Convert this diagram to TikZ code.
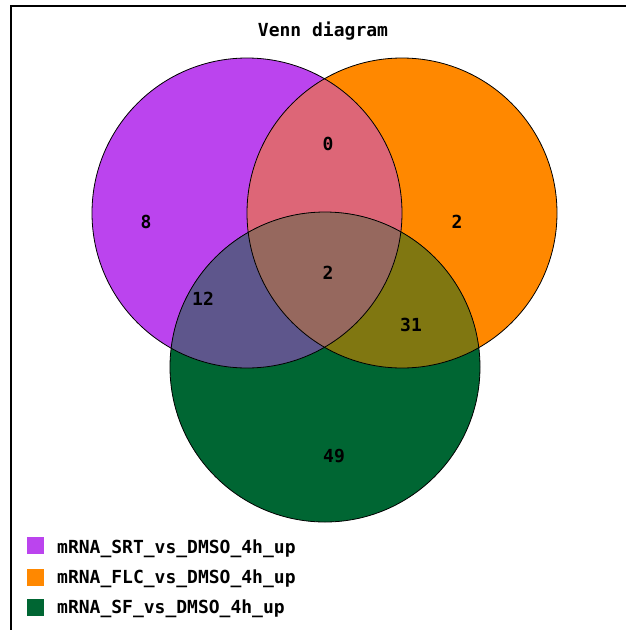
\documentclass[tikz,border=0pt]{standalone}
\usepackage{fontspec}
\newfontfamily\pixfont{DejaVu Sans Mono}
\definecolor{cA}{RGB}{187,68,238}
\definecolor{cB}{RGB}{255,136,0}
\definecolor{cC}{RGB}{0,102,51}
\definecolor{cAB}{RGB}{221,102,119}
\definecolor{cAC}{RGB}{94,86,140}
\definecolor{cBC}{RGB}{128,119,17}
\definecolor{cABC}{RGB}{150,104,94}
\tikzset{
  lbl/.style={font=\pixfont\bfseries\fontsize{18}{18}\selectfont, inner sep=0pt},
  swatch/.style={minimum width=17pt, minimum height=17pt, inner sep=0pt, draw=none},
  frameline/.style={line width=2pt, black},
  outline/.style={draw=black, line width=0.8pt}
}
\begin{document}
\begin{tikzpicture}[x=1pt,y=-1pt]
\useasboundingbox (0,0) rectangle (626,630);
\fill[white] (0,0) rectangle (626,630);
% frame
\draw[frameline] (11,630) -- (11,6) -- (626,6);
% circles
\def\rr{155}
\coordinate (pA) at (247,213);
\coordinate (pB) at (402,213);
\coordinate (pC) at (325,367);
\fill[cA] (pA) circle (\rr);
\fill[cB] (pB) circle (\rr);
\fill[cC] (pC) circle (\rr);
\begin{scope}
  \clip (pA) circle (\rr);
  \fill[cAB] (pB) circle (\rr);
  \fill[cAC] (pC) circle (\rr);
\end{scope}
\begin{scope}
  \clip (pB) circle (\rr);
  \fill[cBC] (pC) circle (\rr);
\end{scope}
\begin{scope}
  \clip (pA) circle (\rr);
  \clip (pB) circle (\rr);
  \fill[cABC] (pC) circle (\rr);
\end{scope}
\draw[outline] (pA) circle (\rr);
\draw[outline] (pB) circle (\rr);
\draw[outline] (pC) circle (\rr);
% title
\node[lbl] (title) at (323,31) {Venn diagram};
% counts
\node[lbl] (nA) at (146,222) {8};
\node[lbl] (nAB) at (328,144) {0};
\node[lbl] (nB) at (457,222) {2};
\node[lbl] (nAC) at (203,299) {12};
\node[lbl] (nABC) at (328,273) {2};
\node[lbl] (nBC) at (411,325) {31};
\node[lbl] (nC) at (334,456) {49};
% legend
\node[swatch, fill=cA] (sA) at (35.5,545) {};
\node[swatch, fill=cB] (sB) at (35.5,577) {};
\node[swatch, fill=cC] (sC) at (35.5,607) {};
\node[lbl, anchor=west] (tA) at (57,549) {mRNA\_SRT\_vs\_DMSO\_4h\_up};
\node[lbl, anchor=west] (tB) at (57,579) {mRNA\_FLC\_vs\_DMSO\_4h\_up};
\node[lbl, anchor=west] (tC) at (57,609) {mRNA\_SF\_vs\_DMSO\_4h\_up};
\end{tikzpicture}
\end{document}
